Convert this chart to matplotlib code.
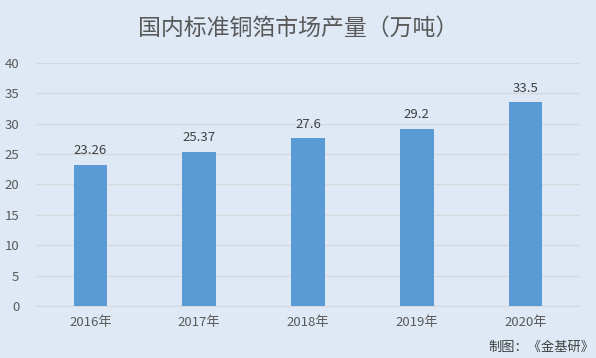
import matplotlib
matplotlib.use("Agg")
import matplotlib.pyplot as plt

plt.rcParams['font.family'] = ['Noto Sans CJK SC', 'DejaVu Sans']

categories = ["2016年", "2017年", "2018年", "2019年", "2020年"]
values = [23.26, 25.37, 27.6, 29.2, 33.5]
value_labels = ["23.26", "25.37", "27.6", "29.2", "33.5"]
yticks = [0, 5, 10, 15, 20, 25, 30, 35, 40]
title = "国内标准铜箔市场产量（万吨）"
footer = "制图：《金基研》"

bg = "#dee9f5"
fig = plt.figure(figsize=(5.96, 3.58), dpi=100, facecolor=bg)
ax = fig.add_axes([0.0604, 0.1453, 0.9126, 0.6788], facecolor=bg)

x = list(range(len(categories)))
ax.bar(x, values, width=0.31, color="#5b9bd5", zorder=3)
for xi, v, lab in zip(x, values, value_labels):
    ax.annotate(lab, (xi, v), xytext=(0, 5.5), textcoords="offset points",
                ha="center", va="bottom", fontsize=9.5, color="#404040")

ax.set_xlim(-0.5, len(categories) - 0.5)
ax.set_ylim(0, 40)
ax.set_yticks(yticks)
ax.set_yticklabels([str(t) for t in yticks])
ax.set_xticks(x)
ax.set_xticklabels(categories)
ax.yaxis.grid(True, color="#d5d9de", linewidth=1, zorder=0)
ax.set_axisbelow(True)
for s in ax.spines.values():
    s.set_visible(False)
ax.spines['bottom'].set_visible(True)
ax.spines['bottom'].set_color("#d5d9de")
ax.tick_params(axis='both', length=0, colors="#595959", labelsize=9.5)
ax.tick_params(axis='x', pad=7)
ax.tick_params(axis='y', pad=12)

fig.text(0.5, 0.922, title, ha="center", va="center", fontsize=16.5, color="#595959")
fig.text(0.997, 0.03, footer, ha="right", va="center", fontsize=9.5, color="#404040")

fig.savefig("out.png", dpi=100, facecolor=bg)
